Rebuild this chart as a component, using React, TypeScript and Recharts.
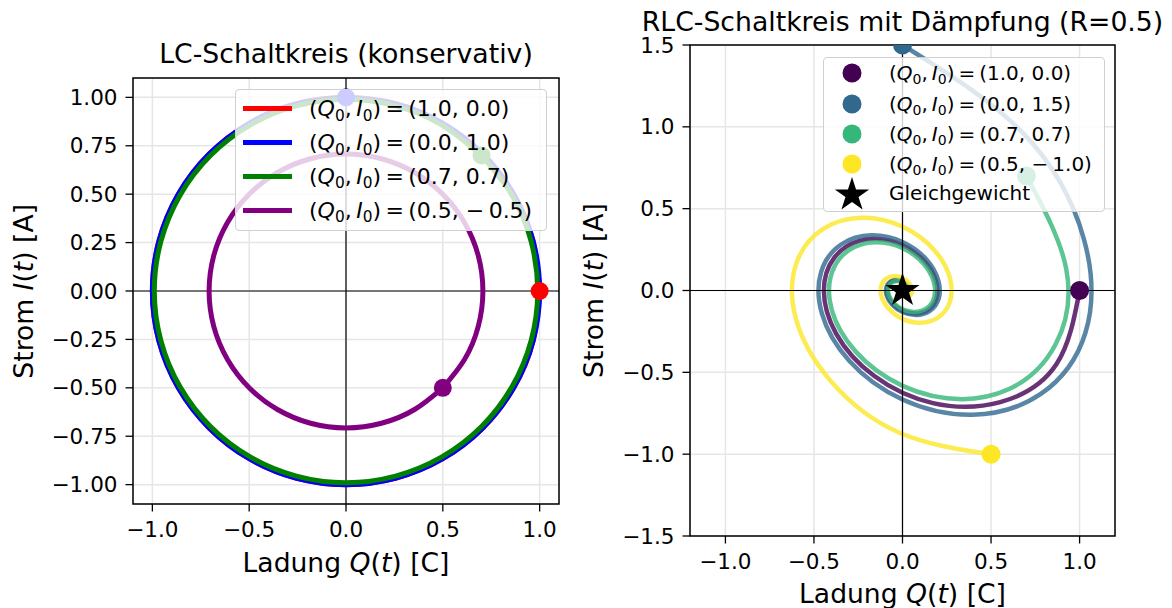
import React from "react";
import {
  ComposedChart,
  Line,
  Scatter,
  XAxis,
  YAxis,
  CartesianGrid,
  ReferenceLine,
  ReferenceArea,
} from "recharts";

const FONT = "'DejaVu Sans', 'Liberation Sans', sans-serif";

// --- LC-Schaltkreis (links): Trajektorien (Q, I)
const lcRed: [number, number][] = [
  [1, 0], [0.966, -0.259], [0.866, -0.5], [0.707, -0.707], [0.5, -0.866], [0.259, -0.966],
  [0, -1], [-0.259, -0.966], [-0.5, -0.866], [-0.707, -0.707], [-0.866, -0.5], [-0.966, -0.259],
  [-1, 0], [-0.966, 0.259], [-0.866, 0.5], [-0.707, 0.707], [-0.5, 0.866], [-0.259, 0.966],
  [0, 1], [0.259, 0.966], [0.5, 0.866], [0.707, 0.707], [0.866, 0.5], [0.966, 0.259], [1, 0],
];
const lcBlue: [number, number][] = [
  [0, 1], [0.259, 0.966], [0.5, 0.866], [0.707, 0.707], [0.866, 0.5], [0.966, 0.259],
  [1, 0], [0.966, -0.259], [0.866, -0.5], [0.707, -0.707], [0.5, -0.866], [0.259, -0.966],
  [0, -1], [-0.259, -0.966], [-0.5, -0.866], [-0.707, -0.707], [-0.866, -0.5], [-0.966, -0.259],
  [-1, 0], [-0.966, 0.259], [-0.866, 0.5], [-0.707, 0.707], [-0.5, 0.866], [-0.259, 0.966], [0, 1],
];
const lcGreen: [number, number][] = [
  [0.7, 0.7], [0.857, 0.495], [0.956, 0.256], [0.99, 0], [0.956, -0.256], [0.857, -0.495],
  [0.7, -0.7], [0.495, -0.857], [0.256, -0.956], [0, -0.99], [-0.256, -0.956], [-0.495, -0.857],
  [-0.7, -0.7], [-0.857, -0.495], [-0.956, -0.256], [-0.99, 0], [-0.956, 0.256], [-0.857, 0.495],
  [-0.7, 0.7], [-0.495, 0.857], [-0.256, 0.956], [0, 0.99], [0.256, 0.956], [0.495, 0.857], [0.7, 0.7],
];
const lcPurple: [number, number][] = [
  [0.5, -0.5], [0.354, -0.612], [0.183, -0.683], [0, -0.707], [-0.183, -0.683], [-0.354, -0.612],
  [-0.5, -0.5], [-0.612, -0.354], [-0.683, -0.183], [-0.707, 0], [-0.683, 0.183], [-0.612, 0.354],
  [-0.5, 0.5], [-0.354, 0.612], [-0.183, 0.683], [0, 0.707], [0.183, 0.683], [0.354, 0.612],
  [0.5, 0.5], [0.612, 0.354], [0.683, 0.183], [0.707, 0], [0.683, -0.183], [0.612, -0.354], [0.5, -0.5],
];
const lcStarts: [number, number][] = [[1.0, 0.0], [0.0, 1.0], [0.7, 0.7], [0.5, -0.5]];
const lcColors = ["#ff0000", "#0000ff", "#008000", "#800080"];
const lcLabels = ["(1.0, 0.0)", "(0.0, 1.0)", "(0.7, 0.7)", "(0.5, \u2212\u20090.5)"];

// --- RLC-Schaltkreis (rechts), R = 0.5
const rlcA: [number, number][] = [
  [1, 0], [0.869, -0.451], [0.552, -0.682], [0.172, -0.688], [-0.161, -0.521], [-0.375, -0.263],
  [-0.444, 0], [-0.386, 0.2], [-0.245, 0.303], [-0.076, 0.306], [0.071, 0.231], [0.166, 0.117],
  [0.197, 0], [0.172, -0.089], [0.109, -0.135], [0.034, -0.136], [-0.032, -0.103], [-0.074, -0.052],
  [-0.088, 0], [-0.076, 0.04], [-0.048, 0.06], [-0.015, 0.06], [0.014, 0.046], [0.033, 0.023], [0.039, 0],
];
const rlcB: [number, number][] = [
  [0, 1.5], [0.677, 0.966], [1.024, 0.316], [1.033, -0.258], [0.781, -0.632], [0.394, -0.759],
  [0, -0.666], [-0.301, -0.429], [-0.455, -0.141], [-0.459, 0.115], [-0.347, 0.281], [-0.175, 0.337],
  [0, 0.296], [0.134, 0.191], [0.202, 0.062], [0.204, -0.051], [0.154, -0.125], [0.078, -0.15],
  [0, -0.131], [-0.059, -0.085], [-0.09, -0.028], [-0.09, 0.023], [-0.068, 0.055], [-0.035, 0.067], [0, 0.058],
];
const rlcC: [number, number][] = [
  [0.7, 0.7], [0.924, 0.135], [0.864, -0.33], [0.602, -0.602], [0.252, -0.659], [-0.078, -0.538],
  [-0.311, -0.311], [-0.411, -0.06], [-0.384, 0.147], [-0.268, 0.268], [-0.112, 0.293], [0.035, 0.239],
  [0.138, 0.138], [0.182, 0.027], [0.171, -0.065], [0.119, -0.119], [0.05, -0.13], [-0.015, -0.106],
  [-0.061, -0.061], [-0.081, -0.012], [-0.076, 0.029], [-0.053, 0.053], [-0.022, 0.058], [0.007, 0.047], [0.027, 0.027],
];
const rlcD: [number, number][] = [
  [0.5, -1], [-0.017, -0.869], [-0.406, -0.552], [-0.602, -0.172], [-0.601, 0.161], [-0.45, 0.375],
  [-0.222, 0.444], [0.007, 0.386], [0.181, 0.245], [0.268, 0.076], [0.267, -0.071], [0.2, -0.166],
  [0.099, -0.197], [-0.003, -0.172], [-0.08, -0.109], [-0.119, -0.034], [-0.119, 0.032], [-0.089, 0.074],
  [-0.044, 0.088], [0.001, 0.076], [0.036, 0.048], [0.053, 0.015], [0.053, -0.014], [0.039, -0.033], [0.019, -0.039],
];
const rlcStarts: [number, number][] = [[1.0, 0.0], [0.0, 1.5], [0.7, 0.7], [0.5, -1.0]];
const rlcColors = ["#440154", "#31688e", "#35b779", "#fde725"];
const rlcLabels = ["(1.0, 0.0)", "(0.0, 1.5)", "(0.7, 0.7)", "(0.5, \u2212\u20091.0)"];
const equilibrium: [number, number][] = [[0, 0]];

const lcDomainX = [-1.1, 1.1];
const lcDomainY = [-1.1, 1.1];
const lcTicksX = [-1, -0.5, 0, 0.5, 1];
const lcTicksY = [-1, -0.75, -0.5, -0.25, 0, 0.25, 0.5, 0.75, 1];
const rlcDomainX = [-1.2, 1.2];
const rlcDomainY = [-1.5, 1.5];
const rlcTicksX = [-1, -0.5, 0, 0.5, 1];
const rlcTicksY = [-1.5, -1, -0.5, 0, 0.5, 1, 1.5];

const toPts = (a: [number, number][]) => a.map(([q, i]) => ({ q, i }));
const fmt = (d: number) => (v: number) => (v < 0 ? "\u2212" : "") + Math.abs(v).toFixed(d);

const tickStyle = { fill: "#000", fontSize: 21.5, fontFamily: FONT };

function starPath(cx: number, cy: number, R: number) {
  const r = R * 0.382;
  let d = "";
  for (let k = 0; k < 10; k++) {
    const rad = k % 2 === 0 ? R : r;
    const a = -Math.PI / 2 + (k * Math.PI) / 5;
    d += (k === 0 ? "M" : "L") + (cx + rad * Math.cos(a)).toFixed(2) + "," + (cy + rad * Math.sin(a)).toFixed(2);
  }
  return d + "Z";
}

const dot = (color: string, r: number) => (p: any) => <circle cx={p.cx} cy={p.cy} r={r} fill={color} />;

function Frame({ dx, dy }: { dx: number[]; dy: number[] }) {
  return (
    <ReferenceArea x1={dx[0]} x2={dx[1]} y1={dy[0]} y2={dy[1]} fill="none" stroke="#000" strokeWidth={1.5} ifOverflow="visible" />
  );
}

function MathLabel({ value }: { value: string }) {
  return (
    <span>
      (<i>Q</i>
      <span style={{ fontSize: "0.7em", position: "relative", top: "0.3em" }}>0</span>,{"\u2009"}
      <i>I</i>
      <span style={{ fontSize: "0.7em", position: "relative", top: "0.3em" }}>0</span>)
      {"\u2009=\u2009"}
      {value}
    </span>
  );
}

function LCChart() {
  const series = [lcRed, lcBlue, lcGreen, lcPurple];
  return (
    <ComposedChart width={580} height={608} margin={{ top: 78, right: 21, bottom: 74, left: 0 }}>
      <CartesianGrid stroke="#e6e6e6" strokeWidth={1.5} />
      <XAxis type="number" dataKey="q" domain={lcDomainX} ticks={lcTicksX} allowDataOverflow height={30}
        tickFormatter={fmt(1)} tick={tickStyle} tickSize={7.5} tickMargin={10}
        tickLine={{ stroke: "#000", strokeWidth: 1.3 }} axisLine={false} />
      <YAxis type="number" dataKey="i" domain={lcDomainY} ticks={lcTicksY} allowDataOverflow width={133}
        tickFormatter={fmt(2)} tick={tickStyle} tickSize={7.5} tickMargin={8}
        tickLine={{ stroke: "#000", strokeWidth: 1.3 }} axisLine={false} />
      <ReferenceLine x={0} stroke="#000" strokeWidth={1.2} />
      <ReferenceLine y={0} stroke="#000" strokeWidth={1.2} />
      {series.map((s, k) => (
        <Line key={k} data={toPts(s)} dataKey="i" type="natural" stroke={lcColors[k]} strokeWidth={5}
          dot={false} activeDot={false} isAnimationActive={false} />
      ))}
      {lcStarts.map((s, k) => (
        <Scatter key={"m" + k} data={toPts([s])} dataKey="i" shape={dot(lcColors[k], 9)} isAnimationActive={false} />
      ))}
      <Frame dx={lcDomainX} dy={lcDomainY} />
    </ComposedChart>
  );
}

function RLCChart() {
  const series = [rlcA, rlcB, rlcC, rlcD];
  return (
    <ComposedChart width={592} height={608} margin={{ top: 45, right: 57, bottom: 42, left: 0 }}>
      <CartesianGrid stroke="#e6e6e6" strokeWidth={1.5} />
      <XAxis type="number" dataKey="q" domain={rlcDomainX} ticks={rlcTicksX} allowDataOverflow height={30}
        tickFormatter={fmt(1)} tick={tickStyle} tickSize={7.5} tickMargin={10}
        tickLine={{ stroke: "#000", strokeWidth: 1.3 }} axisLine={false} />
      <YAxis type="number" dataKey="i" domain={rlcDomainY} ticks={rlcTicksY} allowDataOverflow width={110}
        tickFormatter={fmt(1)} tick={tickStyle} tickSize={7.5} tickMargin={8}
        tickLine={{ stroke: "#000", strokeWidth: 1.3 }} axisLine={false} />
      {series.map((s, k) => (
        <Line key={k} data={toPts(s)} dataKey="i" type="natural" stroke={rlcColors[k]} strokeOpacity={0.8}
          strokeWidth={4.5} dot={false} activeDot={false} isAnimationActive={false} />
      ))}
      <ReferenceLine x={0} stroke="#000" strokeWidth={1.2} />
      <ReferenceLine y={0} stroke="#000" strokeWidth={1.2} />
      {rlcStarts.map((s, k) => (
        <Scatter key={"m" + k} data={toPts([s])} dataKey="i" shape={dot(rlcColors[k], 9.5)} isAnimationActive={false} />
      ))}
      <Scatter data={toPts(equilibrium)} dataKey="i" isAnimationActive={false}
        shape={(p: any) => <path d={starPath(p.cx, p.cy, 18)} fill="#000" />} />
      <Frame dx={rlcDomainX} dy={rlcDomainY} />
    </ComposedChart>
  );
}

const legendBox: React.CSSProperties = {
  position: "absolute",
  background: "rgba(255,255,255,0.8)",
  border: "1px solid #d0d0d0",
  borderRadius: 4,
  boxSizing: "border-box",
  fontFamily: FONT,
  color: "#000",
};

function LCLegend() {
  const rows = [18.7, 52.5, 86.3, 120];
  return (
    <div style={{ ...legendBox, left: 235, top: 89, width: 312, height: 142, fontSize: 22 }}>
      {lcLabels.map((lab, k) => (
        <div key={k} style={{ position: "absolute", left: 0, top: rows[k] - 15, height: 30, width: "100%" }}>
          <div style={{ position: "absolute", left: 7, top: 12.5, width: 49, height: 5, background: lcColors[k] }} />
          <div style={{ position: "absolute", left: 73, top: 0, height: 30, display: "flex", alignItems: "center", whiteSpace: "nowrap" }}>
            <MathLabel value={lab} />
          </div>
        </div>
      ))}
    </div>
  );
}

function RLCLegend() {
  const rows = [15, 46, 76, 105.6, 135];
  return (
    <div style={{ ...legendBox, left: 823, top: 57, width: 282, height: 155, fontSize: 20 }}>
      {rlcLabels.map((lab, k) => (
        <div key={k} style={{ position: "absolute", left: 0, top: rows[k] - 15, height: 30, width: "100%" }}>
          <svg width={30} height={30} style={{ position: "absolute", left: 13, top: 0 }}>
            <circle cx={15} cy={15} r={9.5} fill={rlcColors[k]} />
          </svg>
          <div style={{ position: "absolute", left: 65, top: 0, height: 30, display: "flex", alignItems: "center", whiteSpace: "nowrap" }}>
            <MathLabel value={lab} />
          </div>
        </div>
      ))}
      <div style={{ position: "absolute", left: 0, top: rows[4] - 18, height: 36, width: "100%" }}>
        <svg width={40} height={40} style={{ position: "absolute", left: 8, top: 0 }}>
          <path d={starPath(20, 20, 18)} fill="#000" />
        </svg>
        <div style={{ position: "absolute", left: 65, top: 0, height: 36, display: "flex", alignItems: "center" }}>
          Gleichgewicht
        </div>
      </div>
    </div>
  );
}

function Texts() {
  const t = { fontFamily: FONT, fill: "#000" };
  return (
    <svg width={1172} height={608} style={{ position: "absolute", left: 0, top: 0, pointerEvents: "none" }}>
      <text x={346} y={63} textAnchor="middle" fontSize={26.7} {...t}>LC-Schaltkreis (konservativ)</text>
      <text x={902.5} y={30.5} textAnchor="middle" fontSize={26.7} {...t}>RLC-Schaltkreis mit Dämpfung (R=0.5)</text>
      <text x={346} y={572} textAnchor="middle" fontSize={26.6} {...t}>
        Ladung <tspan fontStyle="italic">Q</tspan>(<tspan fontStyle="italic">t</tspan>) [C]
      </text>
      <text x={902.5} y={603} textAnchor="middle" fontSize={26.6} {...t}>
        Ladung <tspan fontStyle="italic">Q</tspan>(<tspan fontStyle="italic">t</tspan>) [C]
      </text>
      <text transform="translate(33,291.3) rotate(-90)" textAnchor="middle" fontSize={26.6} {...t}>
        Strom <tspan fontStyle="italic">I</tspan>(<tspan fontStyle="italic">t</tspan>) [A]
      </text>
      <text transform="translate(603,290.5) rotate(-90)" textAnchor="middle" fontSize={26.6} {...t}>
        Strom <tspan fontStyle="italic">I</tspan>(<tspan fontStyle="italic">t</tspan>) [A]
      </text>
    </svg>
  );
}

export default function App() {
  return (
    <div style={{ position: "absolute", left: 0, top: 0, width: 1172, height: 608, background: "#fff", overflow: "hidden" }}>
      <div style={{ position: "absolute", left: 0, top: 0 }}>
        <LCChart />
      </div>
      <div style={{ position: "absolute", left: 580, top: 0 }}>
        <RLCChart />
      </div>
      <LCLegend />
      <RLCLegend />
      <Texts />
    </div>
  );
}
